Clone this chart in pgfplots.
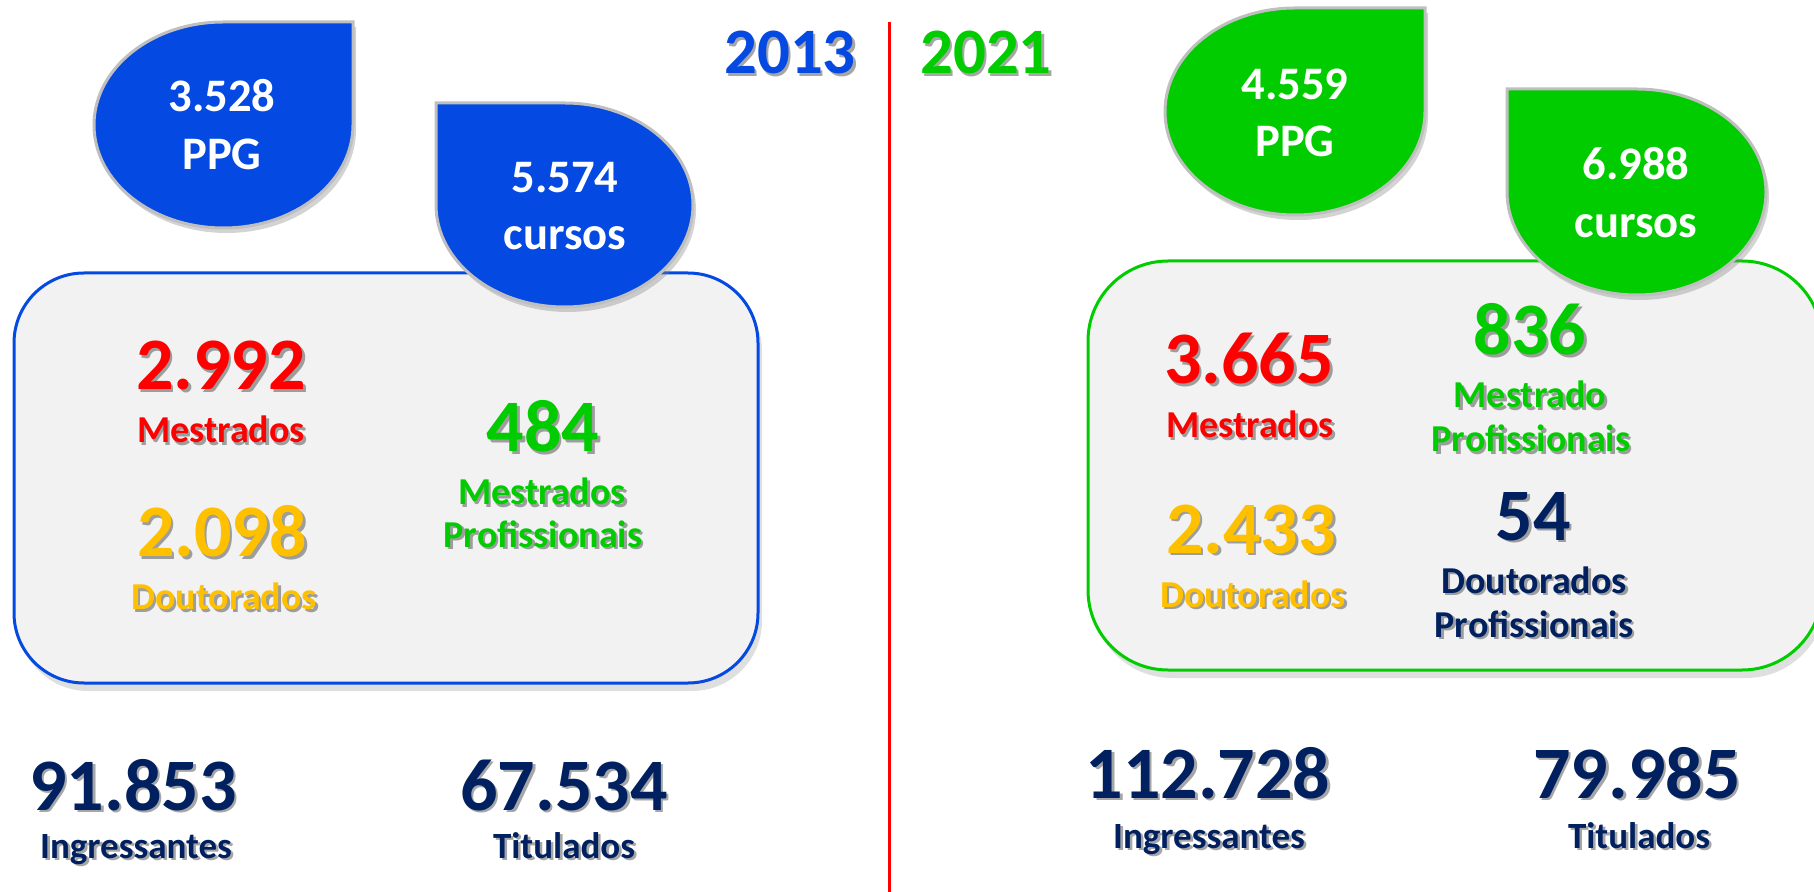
\documentclass[border=0pt]{standalone}
\usepackage{pgfplots}
\pgfplotsset{compat=1.18}
\usepackage{fontspec}
\setmainfont{Carlito}
\usetikzlibrary{shadows}
\definecolor{bluec}{RGB}{3,73,226}
\definecolor{greenc}{RGB}{0,204,0}
\definecolor{redc}{RGB}{255,0,0}
\definecolor{yellowc}{RGB}{255,192,0}
\definecolor{navyc}{RGB}{0,32,96}
\definecolor{boxfill}{RGB}{242,242,242}
\definecolor{outl}{RGB}{191,191,191}
\newcommand\stxt[5]{%
  \node[anchor=base, text=black, opacity=0.35, xshift=1.3pt, yshift=-1.3pt, inner sep=0pt] at (#1,#2) {\fontsize{#4}{#4}\selectfont\bfseries #5};
  \node[anchor=base, text=#3, inner sep=0pt] at (#1,#2) {\fontsize{#4}{#4}\selectfont\bfseries #5};}
\newcommand\ptxt[4]{%
  \node[anchor=base, text=white, inner sep=0pt] at (#1,#2) {\fontsize{#3}{#3}\selectfont\bfseries #4};}
\begin{document}
\begin{tikzpicture}
\begin{axis}[
  scale only axis, width=907pt, height=446pt,
  xmin=0, xmax=1814, ymin=0, ymax=892, y dir=reverse,
  axis lines=none, clip=false]
% separator
\draw[redc, line width=1.5pt] (889,22) -- (889,892);
% years
\stxt{790}{74}{bluec}{32.4}{2013}
\stxt{986}{74}{greenc}{32.4}{2021}
% ---------- 2013 ----------
\draw[bluec, line width=1.5pt, fill=boxfill, rounded corners=35pt,
  drop shadow={shadow xshift=2pt, shadow yshift=-4pt, opacity=0.25}]
  (14,273) rectangle (758,683);
\draw[outl, line width=1.5pt, fill=bluec,
  drop shadow={shadow xshift=1.5pt, shadow yshift=-2.5pt, opacity=0.35}]
  (353,22) -- (353,125) .. controls (353,181.9) and (295,228) .. (223.5,228)
  .. controls (152,228) and (94,181.9) .. (94,125)
  .. controls (94,68.1) and (152,22) .. (223.5,22) -- cycle;
\draw[outl, line width=1.5pt, fill=bluec,
  drop shadow={shadow xshift=1.5pt, shadow yshift=-2.5pt, opacity=0.35}]
  (436,103) -- (564.5,103) .. controls (635.5,103) and (693,148.7) .. (693,205)
  .. controls (693,261.3) and (635.5,307) .. (564.5,307)
  .. controls (493.5,307) and (436,261.3) .. (436,205) -- cycle;
\ptxt{222}{112}{23.3}{3.528}
\ptxt{222}{170}{23.3}{PPG}
\ptxt{565}{193}{23.3}{5.574}
\ptxt{565}{250}{23.3}{cursos}
\stxt{221}{390}{redc}{37}{2.992}
\stxt{221}{443}{redc}{19}{Mestrados}
\stxt{543}{452}{greenc}{37}{484}
\stxt{542}{505}{greenc}{19}{Mestrados}
\stxt{543}{547}{greenc}{19}{Profissionais}
\stxt{222}{557}{yellowc}{37}{2.098}
\stxt{224}{610}{yellowc}{19}{Doutorados}
\stxt{133}{810}{navyc}{37}{91.853}
\stxt{136}{858}{navyc}{18.5}{Ingressantes}
\stxt{564}{810}{navyc}{37}{67.534}
\stxt{564}{858}{navyc}{18.5}{Titulados}
% ---------- 2021 ----------
\draw[greenc, line width=1.5pt, fill=boxfill, rounded corners=40pt,
  drop shadow={shadow xshift=2pt, shadow yshift=-4pt, opacity=0.25}]
  (1088,261) rectangle (1822,670);
\draw[outl, line width=1.5pt, fill=greenc,
  drop shadow={shadow xshift=1.5pt, shadow yshift=-2.5pt, opacity=0.35}]
  (1425,8) -- (1425,111.5) .. controls (1425,168.7) and (1366.8,215) .. (1295,215)
  .. controls (1223.2,215) and (1165,168.7) .. (1165,111.5)
  .. controls (1165,54.3) and (1223.2,8) .. (1295,8) -- cycle;
\draw[outl, line width=1.5pt, fill=greenc,
  drop shadow={shadow xshift=1.5pt, shadow yshift=-2.5pt, opacity=0.35}]
  (1507,89) -- (1636.5,89) .. controls (1708,89) and (1766,135.1) .. (1766,192)
  .. controls (1766,248.9) and (1708,295) .. (1636.5,295)
  .. controls (1565,295) and (1507,248.9) .. (1507,192) -- cycle;
\ptxt{1295}{100}{23.3}{4.559}
\ptxt{1295}{157}{23.3}{PPG}
\ptxt{1636}{180}{23.3}{6.988}
\ptxt{1636}{238}{23.3}{cursos}
\stxt{1249}{384}{redc}{37}{3.665}
\stxt{1250}{438}{redc}{19}{Mestrados}
\stxt{1530}{355}{greenc}{37}{836}
\stxt{1530}{408}{greenc}{19}{Mestrado}
\stxt{1531}{452}{greenc}{19}{Profissionais}
\stxt{1251}{553}{yellowc}{37}{2.433}
\stxt{1253}{607}{yellowc}{19}{Doutorados}
\stxt{1533}{540}{navyc}{37}{54}
\stxt{1534}{593}{navyc}{19}{Doutorados}
\stxt{1534}{637}{navyc}{19}{Profissionais}
\stxt{1208}{798}{navyc}{37}{112.728}
\stxt{1209}{848}{navyc}{18.5}{Ingressantes}
\stxt{1637}{798}{navyc}{37}{79.985}
\stxt{1639}{848}{navyc}{18.5}{Titulados}
\end{axis}
\pgfresetboundingbox
\path[use as bounding box] (current axis.south west) rectangle (current axis.north east);
\end{tikzpicture}
\end{document}
